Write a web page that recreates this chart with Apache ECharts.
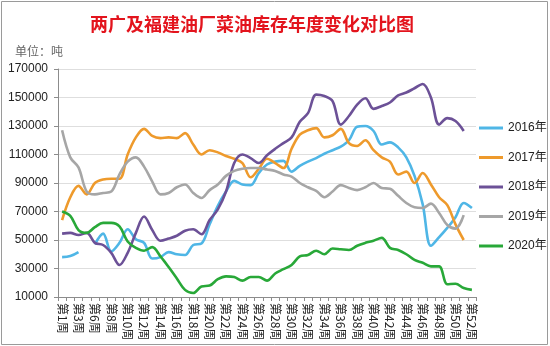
<!DOCTYPE html>
<html>
<head>
<meta charset="utf-8">
<script src="https://cdn.jsdelivr.net/npm/echarts@6/dist/echarts.min.js"></script>
<style>
html,body{margin:0;padding:0;background:#fff;}
#chart{width:550px;height:346px;}
</style>
</head>
<body>
<div id="chart"></div>
<script>
// Week labels (week 5 absent in the source)
var weeks = ['第1周','第2周','第3周','第4周','第6周','第7周','第8周','第9周','第10周','第11周',
  '第12周','第13周','第14周','第15周','第16周','第17周','第18周','第19周','第20周','第21周',
  '第22周','第23周','第24周','第25周','第26周','第27周','第28周','第29周','第30周','第31周',
  '第32周','第33周','第34周','第35周','第36周','第37周','第38周','第39周','第40周','第41周',
  '第42周','第43周','第44周','第45周','第46周','第47周','第48周','第49周','第50周','第51周','第52周'];

var s2016 = [38000,38700,41500,null,47000,54500,42000,48000,57500,50500,
  48000,37000,38000,41500,40000,39500,46500,47500,61000,74000,
  84000,91500,89000,88500,97000,103000,105000,105500,98000,102000,
  105000,107500,110500,113000,115500,120000,129500,130000,126500,117000,
  118500,115000,108000,95000,75000,46000,52000,58500,66000,76000,72500];

var s2017 = [64000,80000,88000,82000,90000,92500,93000,93000,110000,122000,
  128000,123000,121500,122000,121500,125000,117000,110000,113000,111500,
  109000,107000,104000,94000,100000,107000,104000,100500,114000,124000,
  127000,128500,122000,123500,128000,118000,116000,120000,113000,108000,
  105000,96000,98000,90000,97000,89000,80000,74500,61000,50000];

var s2018 = [54500,55000,53500,55000,48000,46500,41000,32500,41000,55000,
  66500,57000,49500,51000,53000,56500,57500,54000,64000,71500,
  84000,104000,110000,107500,104000,109500,114000,118000,122000,133000,
  139000,152000,151000,147500,131000,137000,145000,149500,142000,144000,
  146500,151500,153500,156500,159500,150000,131000,135500,133500,126500];

var s2019 = [127000,108000,101000,84000,82000,83000,84000,96000,105000,108000,
  101500,91000,82000,83000,87000,89000,83000,79500,85000,89000,
  95000,98500,100000,100500,100500,99500,98500,96000,94500,90000,
  87000,84500,80000,84000,88500,86500,85000,87000,90000,86500,
  86000,81000,76000,73000,72500,75500,69000,60500,58000,67500];

var s2020 = [70000,67000,57000,55000,59000,62000,62000,59500,49000,44500,
  42500,45000,38500,31000,23000,15000,12800,17400,18000,22500,
  24500,24000,21500,24000,24000,21500,26500,29500,32500,38500,
  39500,42500,40000,44000,43500,43000,46000,48000,49500,51500,
  44500,43000,40000,36000,34000,31500,31500,19000,19300,16300,15000];

var names = ['2016年','2017年','2018年','2019年','2020年'];
var colors = ['#4fb6e6','#ee9a2c','#6c5197','#a6a6a6','#28a838'];
var yTicks = {min:10000, max:170000, step:20000};

var chart = echarts.init(document.getElementById('chart'));
var all = [s2016,s2017,s2018,s2019,s2020];
var series = all.map(function(d,i){
  return {
    name: names[i], type:'line', data:d, smooth:0.35, showSymbol:false, symbol:'none',
    lineStyle:{width:2.6, color:colors[i]}, itemStyle:{color:colors[i]}, connectNulls:false
  };
});

chart.setOption({
  animation:false,
  backgroundColor:'#fff',
  title:{
    text:'两广及福建油厂菜油库存年度变化对比图',
    left:85, top:10,
    textStyle:{color:'#e3141d', fontSize:18, fontWeight:'bold', fontFamily:'Noto Sans CJK SC'}
  },
  graphic:[
    {type:'rect', shape:{x:1.5,y:1.5,width:546,height:343}, style:{fill:'none', stroke:'#9a9a9a', lineWidth:1}, silent:true},
    {type:'text', left:15, top:45, style:{text:'单位：吨', fill:'#666', fontSize:12, fontFamily:'Noto Sans CJK SC'}}
  ],
  legend:{
    orient:'vertical', left:479, top:121, padding:0, itemGap:15.5,
    icon:'rect', itemWidth:24, itemHeight:3,
    textStyle:{color:'#222', fontSize:12, lineHeight:14, fontFamily:'Liberation Sans, Noto Sans CJK SC'},
    data:names
  },
  grid:{left:58, right:74, top:69, bottom:49},
  xAxis:{
    type:'category', data:weeks, boundaryGap:true,
    axisLine:{lineStyle:{color:'#8c8c8c'}},
    axisTick:{show:true, interval:0, length:4, lineStyle:{color:'#8c8c8c'}},
    axisLabel:{interval:1, rotate:-90, margin:6, fontSize:12, color:'#222', fontFamily:'Noto Sans CJK SC'}
  },
  yAxis:{
    type:'value', min:yTicks.min, max:yTicks.max, interval:yTicks.step,
    axisLine:{show:true, lineStyle:{color:'#8c8c8c'}},
    axisTick:{show:true, length:4, lineStyle:{color:'#8c8c8c'}},
    axisLabel:{fontSize:12, color:'#222', margin:10, fontFamily:'Liberation Sans',
      formatter:function(v){return String(v);}},
    splitLine:{lineStyle:{color:'#dedede'}}
  },
  series:series
});
</script>
</body>
</html>
